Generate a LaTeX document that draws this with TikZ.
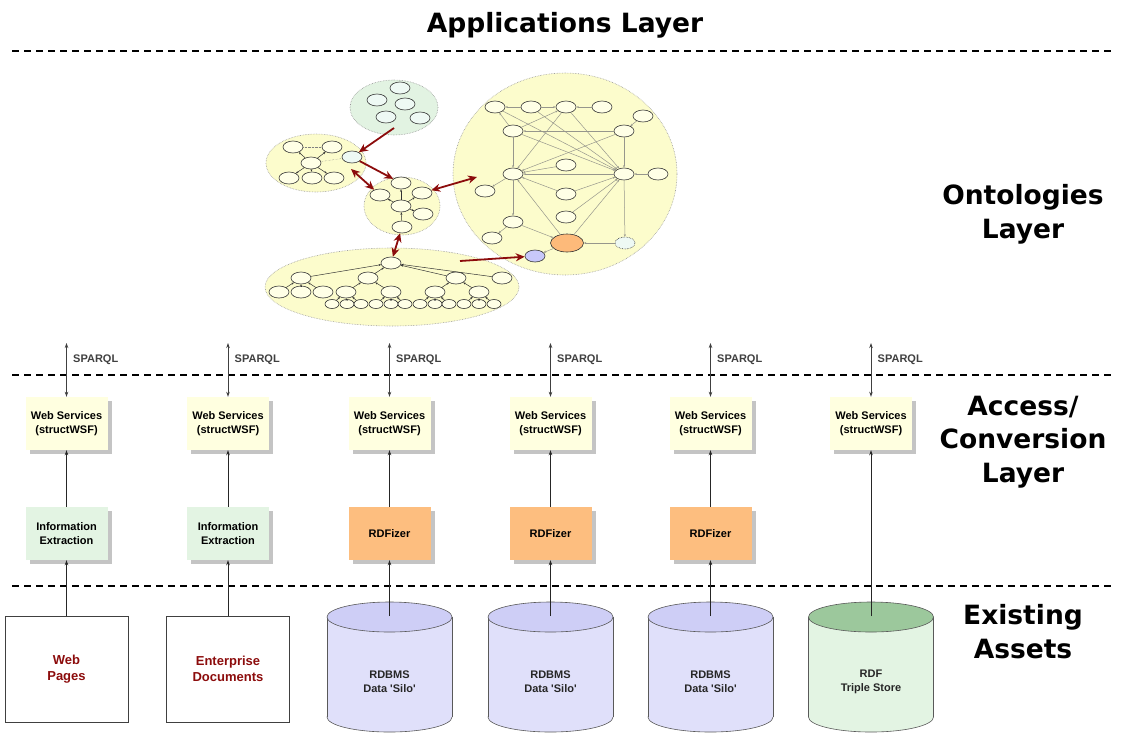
\documentclass[tikz,border=0pt]{standalone}
\usepackage{fontspec}
\setsansfont{Liberation Sans}
\newfontfamily\headfont{DejaVu Sans}
\usepackage{tikz}
\usetikzlibrary{shapes.geometric,arrows.meta,shadows}
\usepackage{xcolor}
\definecolor{semWebYellow}{RGB}{255,255,224}
\definecolor{semWebGreen}{RGB}{227,244,227}
\definecolor{semWebOrange}{RGB}{253,190,127}
\definecolor{semWebShadow}{RGB}{196,196,196}
\definecolor{semWebRed}{RGB}{140,12,12}
\definecolor{siloBody}{RGB}{224,224,250}
\definecolor{siloTop}{RGB}{206,206,246}
\definecolor{storeTop}{RGB}{156,200,156}
\definecolor{ontoFill}{RGB}{252,252,204}
\definecolor{ontoNode}{RGB}{255,255,230}
\definecolor{ontoGreen}{RGB}{226,243,226}
\definecolor{ontoPale}{RGB}{238,249,244}
\definecolor{ontoBlue}{RGB}{200,200,250}
\definecolor{ontoOrange}{RGB}{253,186,122}
\definecolor{ontoEdge}{RGB}{150,150,140}

\tikzset{
  layerline/.style={dash pattern=on 7pt off 5pt, line width=1.6pt},
  layertitle/.style={font=\headfont\bfseries\fontsize{26.5}{33.8}\selectfont, align=center},
  service/.style={fill=semWebYellow, minimum width=82pt, minimum height=53pt, align=center, font=\sffamily\bfseries\fontsize{11}{14.5}\selectfont, drop shadow={shadow xshift=4pt, shadow yshift=-4pt, fill=semWebShadow, opacity=1}},
  extract/.style={service, fill=semWebGreen},
  rdfizer/.style={service, fill=semWebOrange},
  docbox/.style={draw=black!75, line width=0.8pt, fill=white, minimum width=123pt, minimum height=106pt, align=center, text=semWebRed, font=\sffamily\bfseries\fontsize{13}{15.5}\selectfont},
  siloline/.style={draw=black!65, line width=0.6pt},
  silotext/.style={align=center, font=\sffamily\bfseries\fontsize{11}{14}\selectfont, text=black!85},
  feed/.style={draw=black!85, line width=0.8pt, -{Stealth[length=5pt,width=3.5pt]}},
  sparql/.style={draw=black!75, line width=0.8pt, {Stealth[length=5pt,width=3.5pt]}-{Stealth[length=5pt,width=3.5pt]}},
  sparqllabel/.style={anchor=west, inner sep=0pt, font=\sffamily\bfseries\fontsize{11}{12}\selectfont, text=black!75},
  cluster/.style={draw=black!40, densely dotted, line width=0.6pt, fill=ontoFill},
  onode/.style={ellipse, draw=black!80, line width=0.6pt, fill=ontoNode, minimum width=20pt, minimum height=12pt, inner sep=0pt},
  tinynode/.style={onode, minimum width=14pt, minimum height=9pt},
  oedge/.style={draw=black!80, line width=0.5pt, -{Stealth[length=2.5pt,width=2pt]}},
  gedge/.style={draw=ontoEdge, line width=0.5pt, -{Stealth[length=2.5pt,width=2pt]}},
  linkarrow/.style={draw=semWebRed, line width=1.8pt, -{Stealth[length=9pt,width=8pt]}},
  linkboth/.style={linkarrow, {Stealth[length=9pt,width=8pt]}-{Stealth[length=9pt,width=8pt]}}
}

% a data store: x centre, body colour, top colour
\newcommand{\drawsilo}[3]{%
  \draw[siloline, fill=#2] (#1,717) ellipse [x radius=62.5pt, y radius=15pt];
  \fill[#2] (#1-62.5,617) rectangle (#1+62.5,717);
  \draw[siloline] (#1-62.5,617) -- (#1-62.5,717) (#1+62.5,617) -- (#1+62.5,717);
  \draw[siloline, fill=#3] (#1,617) ellipse [x radius=62.5pt, y radius=15pt];
}

\begin{document}
\begin{tikzpicture}[x=1pt, y=-1pt]
  \useasboundingbox (0,0) rectangle (1126,748);

  % layers
  \node[layertitle] (apps) at (565,25) {Applications Layer};
  \node[layertitle] (ontos) at (1023,214) {Ontologies\\Layer};
  \node[layertitle] (access) at (1023,442) {Access/\\Conversion\\Layer};
  \node[layertitle] (assets) at (1023,632) {Existing\\Assets};
  \draw[layerline] (12,51) -- (1114,51);
  \draw[layerline] (12,375) -- (1114,375);
  \draw[layerline] (12,586) -- (1114,586);

  % ontology clusters
  \draw[cluster, fill=ontoGreen] (394,107.5) ellipse [x radius=44pt, y radius=27.5pt];
  \draw[cluster] (316,163) ellipse [x radius=50pt, y radius=29pt];
  \draw[cluster] (402,206) ellipse [x radius=38pt, y radius=29pt];
  \draw[cluster] (565,174) ellipse [x radius=112pt, y radius=101pt];
  \draw[cluster] (392,287) ellipse [x radius=127pt, y radius=39pt];

  \node[onode, fill=ontoPale] (g1) at (400,88) {};
  \node[onode, fill=ontoPale] (g2) at (377,100) {};
  \node[onode, fill=ontoPale] (g3) at (405,104) {};
  \node[onode, fill=ontoPale] (g4) at (386,117) {};
  \node[onode, fill=ontoPale] (g5) at (420,118) {};

  \node[onode] (a1) at (293,147) {};
  \node[onode] (a2) at (332,147) {};
  \node[onode] (a3) at (311,163) {};
  \node[onode, fill=ontoPale] (a4) at (352,157) {};
  \node[onode] (a5) at (289,178) {};
  \node[onode] (a6) at (312,178) {};
  \node[onode] (a7) at (334,178) {};
  \draw[densely dotted, black!50] (a1) -- (a2);
  \draw[densely dotted, black!50] (a3) -- (a4);
  \draw[oedge] (a3) -- (a1);
  \draw[oedge] (a3) -- (a2);
  \draw[oedge] (a3) -- (a5);
  \draw[oedge] (a3) -- (a6);
  \draw[oedge] (a3) -- (a7);

  \node[onode] (b1) at (401,183) {};
  \node[onode] (b2) at (380,195) {};
  \node[onode] (b3) at (422,193) {};
  \node[onode] (b4) at (401,206) {};
  \node[onode] (b5) at (423,214) {};
  \node[onode] (b6) at (402,227) {};
  \draw[oedge] (b4) -- (b1);
  \draw[oedge] (b4) -- (b2);
  \draw[oedge] (b4) -- (b3);
  \draw[oedge] (b4) -- (b5);
  \draw[oedge] (b6) -- (b4);

  \node[onode] (c1) at (495,107) {};
  \node[onode] (c2) at (531,107) {};
  \node[onode] (c3) at (566,107) {};
  \node[onode] (c4) at (602,107) {};
  \node[onode] (c5) at (643,116) {};
  \node[onode] (c6) at (513,131) {};
  \node[onode] (c7) at (624,131) {};
  \node[onode] (c8) at (566,165) {};
  \node[onode] (c9) at (513,174) {};
  \node[onode] (c10) at (624,174) {};
  \node[onode] (c11) at (658,174) {};
  \node[onode] (c12) at (485,191) {};
  \node[onode] (c13) at (566,194) {};
  \node[onode] (c14) at (566,217) {};
  \node[onode] (c15) at (513,222) {};
  \node[onode] (c16) at (492,238) {};
  \node[onode, fill=ontoOrange, minimum width=33pt, minimum height=18pt] (c17) at (567,243) {};
  \node[onode, fill=ontoPale, densely dotted] (c18) at (625,243) {};
  \node[onode, fill=ontoBlue] (c19) at (535,256) {};
  \draw[gedge] (c2) -- (c1);
  \draw[gedge] (c2) -- (c3);
  \draw[gedge] (c4) -- (c3);
  \draw[gedge] (c6) -- (c1);
  \draw[gedge] (c6) -- (c3);
  \draw[gedge] (c1) -- (c10);
  \draw[gedge] (c2) -- (c10);
  \draw[gedge] (c3) -- (c10);
  \draw[gedge] (c3) -- (c9);
  \draw[gedge] (c7) -- (c6);
  \draw[gedge] (c6) -- (c10);
  \draw[gedge] (c7) -- (c9);
  \draw[gedge] (c5) -- (c7);
  \draw[gedge] (c6) -- (c9);
  \draw[gedge] (c7) -- (c10);
  \draw[gedge] (c8) -- (c9);
  \draw[gedge] (c10) -- (c9);
  \draw[gedge] (c9) -- (c12);
  \draw[gedge] (c13) -- (c9);
  \draw[gedge] (c13) -- (c10);
  \draw[gedge] (c14) -- (c10);
  \draw[gedge] (c9) -- (c15);
  \draw[gedge] (c15) -- (c16);
  \draw[gedge] (c15) -- (c17);
  \draw[gedge] (c17) -- (c9);
  \draw[gedge] (c17) -- (c10);
  \draw[gedge] (c11) -- (c10);
  \draw[gedge] (c10) -- (c18);
  \draw[gedge] (c18) -- (c17);
  \draw[gedge] (c17) -- (c19);

  \node[onode] (d0) at (391,263) {};
  \node[onode] (d1) at (301,278) {};
  \node[onode] (d2) at (368,278) {};
  \node[onode] (d3) at (456,278) {};
  \node[onode] (d4) at (502,278) {};
  \node[onode] (e1) at (279,292) {};
  \node[onode] (e2) at (301,292) {};
  \node[onode] (e3) at (323,292) {};
  \node[onode] (e4) at (346,292) {};
  \node[onode] (e5) at (391,292) {};
  \node[onode] (e6) at (435,292) {};
  \node[onode] (e7) at (479,292) {};
  \node[tinynode] (f1) at (332,304) {};
  \node[tinynode] (f2) at (347,304) {};
  \node[tinynode] (f3) at (361,304) {};
  \node[tinynode] (f4) at (376,304) {};
  \node[tinynode] (f5) at (391,304) {};
  \node[tinynode] (f6) at (405,304) {};
  \node[tinynode] (f7) at (420,304) {};
  \node[tinynode] (f8) at (435,304) {};
  \node[tinynode] (f9) at (449,304) {};
  \node[tinynode] (f10) at (464,304) {};
  \node[tinynode] (f11) at (479,304) {};
  \node[tinynode] (f12) at (494,304) {};
  \draw[oedge] (d1) -- (d0);
  \draw[oedge] (d2) -- (d0);
  \draw[oedge] (d3) -- (d0);
  \draw[oedge] (d4) -- (d0);
  \draw[oedge] (e1) -- (d1);
  \draw[oedge] (e2) -- (d1);
  \draw[oedge] (e3) -- (d1);
  \draw[oedge] (e4) -- (d2);
  \draw[oedge] (e5) -- (d2);
  \draw[oedge] (e6) -- (d3);
  \draw[oedge] (e7) -- (d3);
  \draw[oedge] (f1) -- (e4);
  \draw[oedge] (f2) -- (e4);
  \draw[oedge] (f3) -- (e4);
  \draw[oedge] (f4) -- (e5);
  \draw[oedge] (f5) -- (e5);
  \draw[oedge] (f6) -- (e5);
  \draw[oedge] (f7) -- (e6);
  \draw[oedge] (f8) -- (e6);
  \draw[oedge] (f9) -- (e6);
  \draw[oedge] (f10) -- (e7);
  \draw[oedge] (f11) -- (e7);
  \draw[oedge] (f12) -- (e7);

  % links between ontologies
  \coordinate (gOut) at (394,128);
  \coordinate (aOut) at (351,169);
  \coordinate (cIn) at (477,177);
  \coordinate (dOut) at (460,261);
  \draw[linkarrow] (gOut) -- (a4);
  \draw[linkarrow] (a4) -- (b1);
  \draw[linkboth] (aOut) -- (b2);
  \draw[linkboth] (b3) -- (cIn);
  \draw[linkboth] (b6) -- (d0);
  \draw[linkarrow] (dOut) -- (c19);

  % access / conversion layer
  \node[service] (ws1) at (66.5,423.5) {Web Services\\(structWSF)};
  \node[service] (ws2) at (228,423.5) {Web Services\\(structWSF)};
  \node[service] (ws3) at (389.5,423.5) {Web Services\\(structWSF)};
  \node[service] (ws4) at (550.5,423.5) {Web Services\\(structWSF)};
  \node[service] (ws5) at (710.5,423.5) {Web Services\\(structWSF)};
  \node[service] (ws6) at (871,423.5) {Web Services\\(structWSF)};

  \node[extract] (ie1) at (66.5,533.5) {Information\\Extraction};
  \node[extract] (ie2) at (228,533.5) {Information\\Extraction};
  \node[rdfizer] (rf1) at (389.5,533.5) {RDFizer};
  \node[rdfizer] (rf2) at (550.5,533.5) {RDFizer};
  \node[rdfizer] (rf3) at (710.5,533.5) {RDFizer};

  \coordinate (q1) at (66.5,343);
  \coordinate (q2) at (228,343);
  \coordinate (q3) at (389.5,343);
  \coordinate (q4) at (550.5,343);
  \coordinate (q5) at (710.5,343);
  \coordinate (q6) at (871,343);
  \draw[sparql] (q1) -- (ws1);
  \draw[sparql] (q2) -- (ws2);
  \draw[sparql] (q3) -- (ws3);
  \draw[sparql] (q4) -- (ws4);
  \draw[sparql] (q5) -- (ws5);
  \draw[sparql] (q6) -- (ws6);
  \node[sparqllabel] (l1) at (73,360) {SPARQL};
  \node[sparqllabel] (l2) at (234.5,360) {SPARQL};
  \node[sparqllabel] (l3) at (396,360) {SPARQL};
  \node[sparqllabel] (l4) at (557,360) {SPARQL};
  \node[sparqllabel] (l5) at (717,360) {SPARQL};
  \node[sparqllabel] (l6) at (877.5,360) {SPARQL};

  % existing assets
  \node[docbox] (web) at (66.5,669) {Web\\Pages};
  \node[docbox] (ent) at (228,669) {Enterprise\\Documents};
  \drawsilo{389.5}{siloBody}{siloTop}
  \drawsilo{550.5}{siloBody}{siloTop}
  \drawsilo{710.5}{siloBody}{siloTop}
  \drawsilo{871}{semWebGreen}{storeTop}
  \coordinate (db1top) at (389.5,616);
  \coordinate (db2top) at (550.5,616);
  \coordinate (db3top) at (710.5,616);
  \coordinate (tstop) at (871,616);
  \node[silotext] (db1) at (389.5,682) {RDBMS\\Data \textquotesingle Silo\textquotesingle};
  \node[silotext] (db2) at (550.5,682) {RDBMS\\Data \textquotesingle Silo\textquotesingle};
  \node[silotext] (db3) at (710.5,682) {RDBMS\\Data \textquotesingle Silo\textquotesingle};
  \node[silotext] (ts) at (871,682) {RDF\\Triple Store};

  \draw[feed] (ie1) -- (ws1);
  \draw[feed] (ie2) -- (ws2);
  \draw[feed] (rf1) -- (ws3);
  \draw[feed] (rf2) -- (ws4);
  \draw[feed] (rf3) -- (ws5);
  \draw[feed] (tstop) -- (ws6);
  \draw[feed] (web) -- (ie1);
  \draw[feed] (ent) -- (ie2);
  \draw[feed] (db1top) -- (rf1);
  \draw[feed] (db2top) -- (rf2);
  \draw[feed] (db3top) -- (rf3);
\end{tikzpicture}
\end{document}
